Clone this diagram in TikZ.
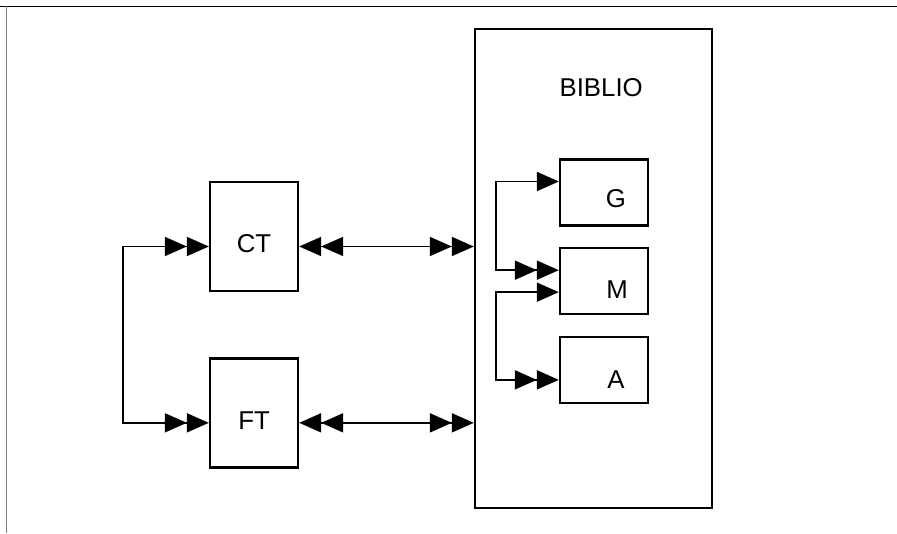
\documentclass[tikz,border=0pt]{standalone}
\usepackage{fontspec}
\newfontfamily\boxfont{Liberation Sans}
\usetikzlibrary{positioning,arrows.meta}

\begin{document}
\begin{tikzpicture}[>={Triangle[length=6.6mm,width=5.7mm]},node distance=1.95cm,
  block/.style={draw,line width=2pt,inner sep=0pt},
  unit/.style={block,minimum width=2.64cm,minimum height=3.27cm},
  part/.style={block,minimum width=2.64cm,minimum height=1.98cm},
  boxtext/.style={font=\boxfont\fontsize{22}{26}\selectfont,inner sep=0pt},
  link/.style={line width=1.5pt}]
  \useasboundingbox (0,0) rectangle (26.91,15.99);
  \draw[line width=1pt] (0,15.8) -- (26.91,15.8);
  \draw[line width=0.5pt,gray] (0.18,15.8) -- (0.18,0);

  \node[block,minimum width=7.11cm,minimum height=14.37cm] (BIBLIO) at (17.805,7.935) {};
  \node[boxtext] (tBIBLIO) at ([xshift=2.3mm,yshift=-1.8cm]BIBLIO.north) {BIBLIO};

  \node[unit] (CT) at (7.62,8.895) {};
  \node[unit,below=of CT] (FT) {};
  \node[boxtext] (tCT) at ([yshift=-2.2mm]CT.center) {CT};
  \node[boxtext] (tFT) at ([yshift=-2.4mm]FT.center) {FT};

  \node[part] (G) at (18.12,10.215) {};
  \node[part,below=0.6cm of G] (M) {};
  \node[part,below=0.63cm of M] (A) {};
  \node[boxtext] (tG) at ([xshift=3.6mm,yshift=-1.7mm]G.center) {G};
  \node[boxtext] (tM) at ([xshift=3.9mm,yshift=-2.5mm]M.center) {M};
  \node[boxtext] (tA) at ([xshift=3.6mm,yshift=-2.8mm]A.center) {A};

  \draw[link,<<->>] ([yshift=-3mm]CT.east) -- ([yshift=-3mm]CT.east -| BIBLIO.west);
  \draw[link,<<->>] ([yshift=-3mm]FT.east) -- ([yshift=-3mm]FT.east -| BIBLIO.west);
  \draw[link,<<->>] ([yshift=-3mm]CT.west) -- ++(-2.58,0) |- ([yshift=-3mm]FT.west);

  \draw[link,<->>] ([yshift=3.3mm]G.west) -- ++(-1.89,0) |- ([yshift=3.2mm]M.west);
  \draw[link,<->>] ([yshift=-3.4mm]M.west) -- ++(-1.89,0) |- ([yshift=-2.9mm]A.west);
\end{tikzpicture}
\end{document}
